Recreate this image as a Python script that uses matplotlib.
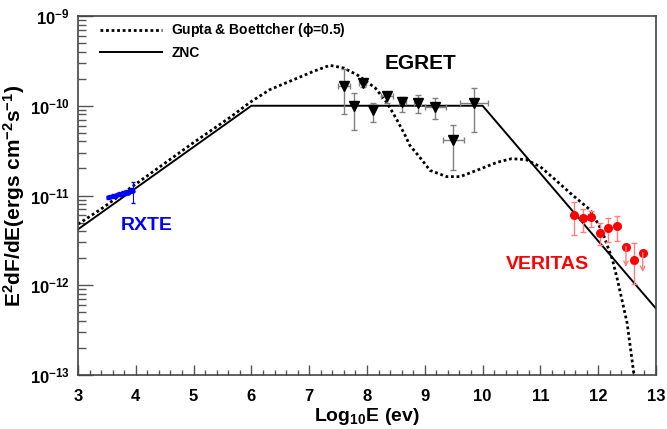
import numpy as np
import matplotlib
matplotlib.use("Agg")
import matplotlib.pyplot as plt
from matplotlib.ticker import FixedLocator, LogLocator, NullFormatter, MultipleLocator

plt.rcParams['font.family'] = ['Liberation Sans', 'DejaVu Sans']
plt.rcParams['font.weight'] = 'bold'
plt.rcParams['mathtext.fontset'] = 'custom'
plt.rcParams['mathtext.rm'] = 'Liberation Sans:bold'
plt.rcParams['mathtext.bf'] = 'Liberation Sans:bold'
plt.rcParams['mathtext.it'] = 'Liberation Sans:bold'
plt.rcParams['axes.unicode_minus'] = True

# ---- data ----
znc_x = [3.0, 6.0, 10.0, 13.0]
znc_y = [4.2e-12, 1.0e-10, 1.0e-10, 5.5e-13]

gb_x = [3.0, 3.4, 4.2, 5.0, 5.63, 5.98, 6.32, 6.84, 7.1, 7.36, 7.6, 7.84, 8.14,
        8.35, 8.52, 8.66, 8.74, 8.92, 9.09, 9.38, 9.61, 9.90, 10.25, 10.5, 10.75,
        11.0, 11.25, 11.51, 11.86, 12.07, 12.17, 12.24, 12.33, 12.50, 12.62, 12.66]
gb_logy = [-11.32, -11.15, -10.78, -10.41, -10.13, -9.96, -9.82, -9.68, -9.61, -9.55,
           -9.58, -9.66, -9.80, -9.97, -10.16, -10.33, -10.44, -10.58, -10.72, -10.79,
           -10.79, -10.72, -10.63, -10.59, -10.60, -10.68, -10.82, -10.97, -11.16,
           -11.40, -11.58, -11.70, -11.93, -12.42, -13.0, -13.2]

egret_x = [7.60, 7.93, 7.78, 8.10, 8.35, 8.61, 8.88, 9.18, 9.49, 9.85]
egret_y = [1.66e-10, 1.78e-10, 1.00e-10, 8.9e-11, 1.29e-10, 1.10e-10, 1.07e-10, 9.7e-11, 4.2e-11, 1.07e-10]
egret_hi = [2.56e-10, 2.0e-10, 1.38e-10, 1.07e-10, 1.38e-10, 1.25e-10, 1.32e-10, 1.22e-10, 6.1e-11, 1.58e-10]
egret_lo = [8.1e-11, 1.6e-10, 5.4e-11, 6.6e-11, 1.07e-10, 8.5e-11, 8.3e-11, 7.1e-11, 1.9e-11, 5.1e-11]
egret_xerr = [0.10, 0.06, 0.0, 0.0, 0.10, 0.06, 0.06, 0.18, 0.18, 0.24]

rxte_x = [3.52, 3.56, 3.60, 3.63, 3.66, 3.69, 3.72, 3.75, 3.78, 3.81, 3.84, 3.87, 3.90, 3.93, 3.96]
rxte_y = [0.95e-11, 0.97e-11, 0.99e-11, 0.98e-11, 1.01e-11, 1.03e-11, 1.05e-11, 1.02e-11,
          1.07e-11, 1.06e-11, 1.10e-11, 1.08e-11, 1.13e-11, 1.16e-11, 1.12e-11]
rxte_err = [0.04e-11, 0.04e-11, 0.04e-11, 0.04e-11, 0.04e-11, 0.04e-11, 0.04e-11, 0.04e-11,
            0.04e-11, 0.04e-11, 0.05e-11, 0.05e-11, 0.05e-11, 0.06e-11, 0.30e-11]

ver_x = [11.58, 11.73, 11.88, 12.03, 12.17, 12.33, 12.62]
ver_y = [6.07e-12, 5.6e-12, 5.8e-12, 3.8e-12, 4.3e-12, 4.6e-12, 1.9e-12]
ver_hi = [8.5e-12, 7.1e-12, 6.8e-12, 5.0e-12, 5.6e-12, 5.9e-12, 2.95e-12]
ver_lo = [3.6e-12, 3.9e-12, 4.5e-12, 2.8e-12, 3.0e-12, 3.1e-12, 1.02e-12]
ul_x = [12.48, 12.77]
ul_y = [2.7e-12, 2.3e-12]
ul_tip = [1.6e-12, 1.4e-12]

xticks = [3, 4, 5, 6, 7, 8, 9, 10, 11, 12, 13]
yticks = [1e-13, 1e-12, 1e-11, 1e-10, 1e-9]
ytick_labels = [r'$10^{-13}$', r'$10^{-12}$', r'$10^{-11}$', r'$10^{-10}$', r'$10^{-9}$']

# ---- figure ----
fig = plt.figure(figsize=(6.67, 4.29), dpi=100)
ax = fig.add_axes([78/667, 1-375/429, 578/667, 359/429])
ax.set_yscale('log')
ax.set_xlim(3, 13)
ax.set_ylim(1e-13, 1e-9)

ax.plot(gb_x, 10**np.array(gb_logy), color='black', lw=2.0, linestyle=(0, (1, 1)),
        label=r'Gupta & Boettcher ($\phi$=0.5)')
ax.plot(znc_x, znc_y, color='black', lw=1.4, label='ZNC')

ey = np.array(egret_y)
ax.errorbar(egret_x, ey, yerr=[ey-np.array(egret_lo), np.array(egret_hi)-ey], xerr=egret_xerr,
            fmt='none', ecolor='#808080', elinewidth=1.0, capsize=2, capthick=1.0)
ax.plot(egret_x, ey, linestyle='none', marker='v', color='black', markersize=7)

ax.errorbar(rxte_x, rxte_y, yerr=rxte_err, fmt='o', color='blue', markersize=2.2,
            ecolor='blue', elinewidth=0.8, capsize=1.5)

vy = np.array(ver_y)
ax.errorbar(ver_x, vy, yerr=[vy-np.array(ver_lo), np.array(ver_hi)-vy], fmt='o',
            color='red', markersize=5.5, ecolor='#ff8080', elinewidth=1.0, capsize=2.5)
for xx, yy, tt in zip(ul_x, ul_y, ul_tip):
    ax.annotate('', xy=(xx, tt), xytext=(xx, yy),
                arrowprops=dict(arrowstyle='->', color='#ff8080', lw=1.0, mutation_scale=8,
                                shrinkA=0, shrinkB=0))
ax.plot(ul_x, ul_y, linestyle='none', marker='o', color='red', markersize=5.5)

ax.text(8.92, 10**-9.53, 'EGRET', fontsize=15, fontweight='bold', ha='center', va='center')
ax.text(4.19, 10**-11.33, 'RXTE', fontsize=14, fontweight='bold', color='blue', ha='center', va='center')
ax.text(11.13, 10**-11.77, 'VERITAS', fontsize=14, fontweight='bold', color='red', ha='center', va='center')

# axes styling
for s in ax.spines.values():
    s.set_color('#444444')
    s.set_linewidth(1.2)
ax.xaxis.set_major_locator(FixedLocator(xticks))
ax.xaxis.set_minor_locator(MultipleLocator(0.2))
ax.set_xticklabels([str(v) for v in xticks])
ax.yaxis.set_major_locator(FixedLocator(yticks))
ax.set_yticklabels(ytick_labels)
ax.yaxis.set_minor_locator(LogLocator(base=10, subs=np.arange(2, 10)))
ax.yaxis.set_minor_formatter(NullFormatter())
ax.tick_params(axis='x', which='major', direction='in', length=7, width=1, color='#555555',
               labelsize=12, pad=10, top=False)
ax.tick_params(axis='x', which='minor', direction='in', length=3.5, width=1, color='#555555', top=False)
ax.tick_params(axis='y', which='major', direction='in', length=11, width=1, color='#555555',
               labelsize=12, pad=6, right=False)
ax.tick_params(axis='y', which='minor', direction='in', length=5.5, width=1, color='#555555', right=False)
for lab in ax.get_xticklabels() + ax.get_yticklabels():
    lab.set_fontweight('bold')

ax.set_xlabel(r'Log$_{10}$E (ev)', fontsize=14, fontweight='bold')
ax.xaxis.set_label_coords(0.5, -0.085)
ax.set_ylabel(r'E$^{2}$dF/dE(ergs cm$^{-2}$s$^{-1}$)', fontsize=15, fontweight='bold')
ax.yaxis.set_label_coords(-0.088, 0.5)

ax.legend(loc='upper left', bbox_to_anchor=(0.038, 0.985), frameon=False, borderpad=0,
          borderaxespad=0, handlelength=4.5, handletextpad=0.65, labelspacing=0.45,
          prop={'weight': 'bold', 'size': 10})

fig.savefig('out.png', dpi=100)
